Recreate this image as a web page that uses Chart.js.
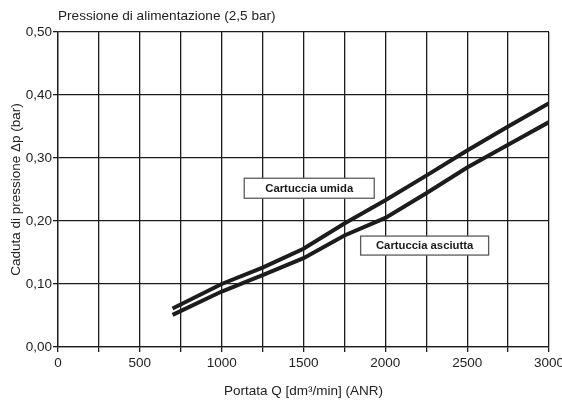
<!DOCTYPE html>
<html lang="it">
<head>
  <meta charset="UTF-8">
  <title>Caduta di pressione</title>
  <script src="https://cdn.jsdelivr.net/npm/chart.js"></script>
  <style>
    html, body {
      margin: 0;
      padding: 0;
      background: #ffffff;
    }
    #wrap {
      width: 562px;
      height: 403px;
    }
  </style>
</head>
<body>
  <div id="wrap"><canvas id="grafico" width="562" height="403"></canvas></div>

  <script>
    // portata Q [dm3/min]
    const portata = [700, 1000, 1250, 1500, 1750, 2000, 2250, 2500, 2750, 3000];
    // caduta di pressione (bar)
    const cartucciaUmida = [0.061, 0.100, 0.126, 0.156, 0.196, 0.233, 0.272, 0.312, 0.350, 0.387];
    const cartucciaAsciutta = [0.051, 0.088, 0.114, 0.141, 0.177, 0.205, 0.244, 0.285, 0.321, 0.357];
    const xTicks = [0, 500, 1000, 1500, 2000, 2500, 3000];
    const yTicks = [0.00, 0.10, 0.20, 0.30, 0.40, 0.50];

    const titolo = "Pressione di alimentazione (2,5 bar)";
    const etichette = [
      { testo: "Cartuccia umida", x: 1535, y: 0.252, w: 130, h: 20 },
      { testo: "Cartuccia asciutta", x: 2240, y: 0.161, w: 128, h: 19 }
    ];

    const nero = "#1c1c1c";
    const font = "'Liberation Sans', Arial, Helvetica, sans-serif";

    const toPoints = (xs, ys) => xs.map((x, i) => ({ x: x, y: ys[i] }));

    const extraDraw = {
      id: "extraDraw",
      afterDatasetsDraw(chart) {
        const ctx = chart.ctx;
        const sx = chart.scales.x;
        const sy = chart.scales.y;
        ctx.save();
        // etichette delle curve
        etichette.forEach(e => {
          const cx = sx.getPixelForValue(e.x);
          const cy = sy.getPixelForValue(e.y);
          ctx.fillStyle = "#ffffff";
          ctx.fillRect(cx - e.w / 2, cy - e.h / 2, e.w, e.h);
          ctx.strokeStyle = "#5a5a5a";
          ctx.lineWidth = 1.3;
          ctx.strokeRect(cx - e.w / 2, cy - e.h / 2, e.w, e.h);
          ctx.fillStyle = "#1a1a1a";
          ctx.font = "bold 11.3px " + font;
          ctx.textAlign = "center";
          ctx.textBaseline = "middle";
          ctx.fillText(e.testo, cx, cy + 0.5);
        });
        // titolo in alto a sinistra
        ctx.fillStyle = "#222222";
        ctx.font = "13.6px " + font;
        ctx.textAlign = "left";
        ctx.textBaseline = "middle";
        ctx.fillText(titolo, chart.chartArea.left, 16);
        ctx.restore();
      }
    };

    const ctx = document.getElementById("grafico").getContext("2d");

    new Chart(ctx, {
      type: "line",
      data: {
        datasets: [
          {
            label: "Cartuccia umida",
            data: toPoints(portata, cartucciaUmida),
            borderColor: nero,
            borderWidth: 4,
            pointRadius: 0,
            fill: false,
            tension: 0
          },
          {
            label: "Cartuccia asciutta",
            data: toPoints(portata, cartucciaAsciutta),
            borderColor: nero,
            borderWidth: 4,
            pointRadius: 0,
            fill: false,
            tension: 0
          }
        ]
      },
      options: {
        responsive: false,
        animation: false,
        layout: {
          padding: { top: 32, right: 13, left: 0, bottom: 0 }
        },
        plugins: {
          legend: { display: false },
          tooltip: { enabled: false }
        },
        scales: {
          x: {
            type: "linear",
            min: 0,
            max: 3000,
            afterFit: (scale) => {
              scale.height = 56;
              scale.paddingRight = 0;
              scale.paddingLeft = 0;
            },
            afterBuildTicks: (scale) => {
              const t = [];
              for (let v = 0; v <= 3000; v += 250) t.push({ value: v });
              scale.ticks = t;
            },
            ticks: {
              autoSkip: false,
              maxRotation: 0,
              padding: 3,
              color: "#222222",
              font: { family: font, size: 13.5 },
              callback: (v) => xTicks.includes(v) ? String(v) : ""
            },
            grid: {
              color: nero,
              lineWidth: 1.3,
              tickLength: 5,
              tickColor: nero,
              tickWidth: 1.3
            },
            border: { color: nero, width: 1.3 },
            title: {
              display: true,
              text: "Portata Q [dm³/min] (ANR)",
              color: "#222222",
              font: { family: font, size: 13.5 },
              padding: { top: 4, bottom: 4 }
            }
          },
          y: {
            type: "linear",
            min: 0,
            max: 0.5,
            afterFit: (scale) => { scale.width = 58; },
            afterBuildTicks: (scale) => {
              scale.ticks = yTicks.map(v => ({ value: v }));
            },
            ticks: {
              padding: 1,
              color: "#222222",
              font: { family: font, size: 13.5 },
              callback: (v) => v.toFixed(2).replace(".", ",")
            },
            grid: {
              color: nero,
              lineWidth: 1.3,
              tickLength: 5,
              tickColor: nero,
              tickWidth: 1.3
            },
            border: { color: nero, width: 1.3 },
            title: {
              display: true,
              text: "Caduta di pressione Δp (bar)",
              color: "#222222",
              font: { family: font, size: 13.5 },
              padding: { top: 8, bottom: 4 }
            }
          }
        }
      },
      plugins: [extraDraw]
    });
  </script>
</body>
</html>
